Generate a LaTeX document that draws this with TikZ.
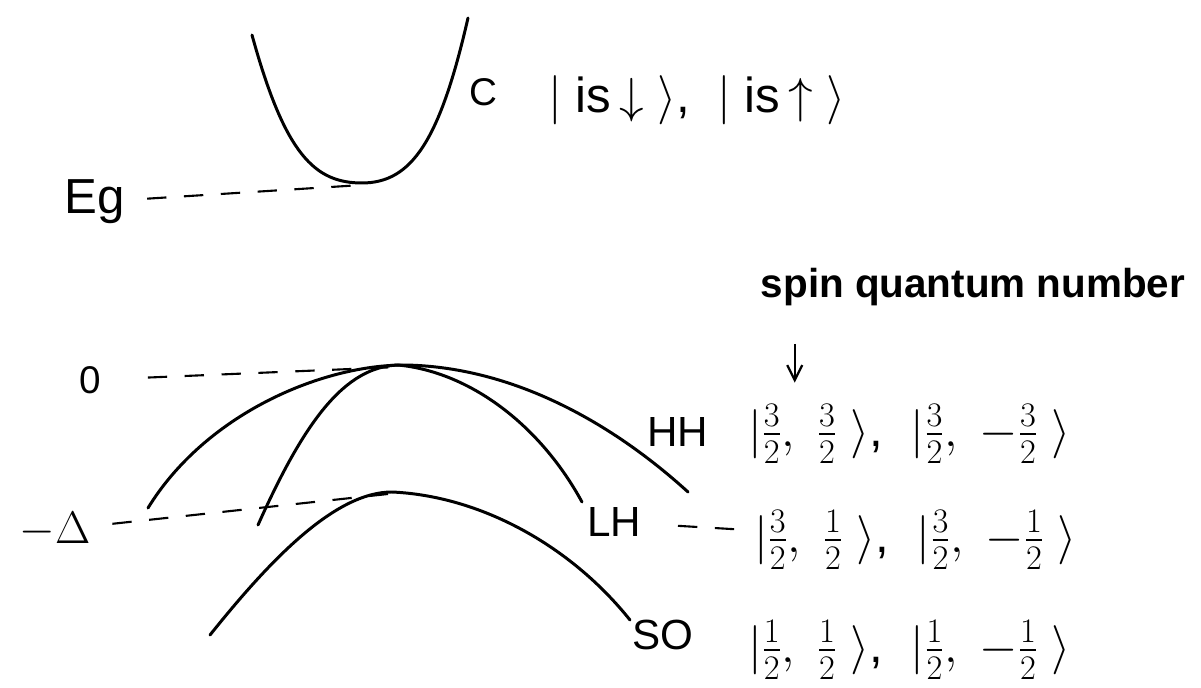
\RequirePackage{fix-cm}
\documentclass[tikz,border=0pt]{standalone}
\usepackage{amsmath}
\usepackage{fontspec}
\setmainfont{Liberation Sans}
\usetikzlibrary{arrows.meta, calc}

\begin{document}
\begin{tikzpicture}[
        x=0.02cm, y=-0.02cm,
        every node/.style={inner sep=1pt},
        band/.style={line width=1.7pt, line cap=round},
        guide/.style={line width=1.2pt, dash pattern=on 11pt off 10pt},
        lbl/.style={font=\fontsize{22}{26}\selectfont},
        ket/.style={anchor=west, font=\fontsize{28}{32}\selectfont},
        pointer/.style={-{Straight Barb[length=3mm, width=3mm]}, line width=1.3pt}
    ]
        \useasboundingbox (0,0) rectangle (1201,688);

        % Conduction band
        \draw[band] (252,35) .. controls (285,155) and (315,183) .. (362,183)
                    .. controls (412,183) and (440,140) .. (468,18);
        \coordinate (cbot) at (362,185);
        \node[lbl] (cl) at (483,92) {C};
        \node[ket] (cket) at (546,100) {$|\;\mathrm{is}\,{\downarrow}\;\rangle$,\;\;$|\;\mathrm{is}\,{\uparrow}\;\rangle$};

        \node[lbl, font=\fontsize{28}{32}\selectfont] (eg) at (95,202) {Eg};
        \draw[guide, shorten <=0.4cm] (eg) -- (cbot);

        % Valence bands
        \coordinate (vtop) at (398,367);
        \coordinate (sotop) at (388,494);
        \draw[band] (148,508) .. controls (205,415) and (320,365) .. (405,365)
                    .. controls (520,367) and (620,430) .. (688,492);
        \draw[band] (258,525) .. controls (305,420) and (345,367) .. (398,365)
                    .. controls (470,372) and (540,425) .. (582,502);
        \draw[band] (210,635) .. controls (270,560) and (335,492) .. (392,492)
                    .. controls (480,496) and (570,545) .. (630,620);

        \node[lbl] (zero) at (90,380) {0};
        \draw[guide, shorten <=0.9cm] (zero) -- (vtop);
        \node[lbl, font=\fontsize{26}{30}\selectfont] (delta) at (55,530) {$-\Delta$};
        \draw[guide, shorten <=0.4cm] (delta) -- (sotop);

        % Labels and states
        \node[lbl, font=\fontsize{24}{28}\selectfont] (hh) at (678,432) {HH};
        \node[lbl, font=\fontsize{24}{28}\selectfont] (lh) at (614,522) {LH};
        \node[lbl, font=\fontsize{24}{28}\selectfont] (so) at (663,635) {SO};
        \node[ket] (hhket) at (746,434) {$|\frac{3}{2},\;\frac{3}{2}\;\rangle$,\;\;$|\frac{3}{2},\;-\frac{3}{2}\;\rangle$};
        \node[ket] (lhket) at (752,540) {$|\frac{3}{2},\;\frac{1}{2}\;\rangle$,\;\;$|\frac{3}{2},\;-\frac{1}{2}\;\rangle$};
        \node[ket] (soket) at (746,650) {$|\frac{1}{2},\;\frac{1}{2}\;\rangle$,\;\;$|\frac{1}{2},\;-\frac{1}{2}\;\rangle$};
        \draw[guide, shorten <=0.7cm, shorten >=0.1cm] (lh) -- (lhket);

        \node[font=\fontsize{23}{27}\selectfont\bfseries] (spin) at (973,287) {spin quantum number};
        \coordinate (ptr) at ($(spin.south west)+(36,36)$);
        \draw[pointer] (ptr) -- ($(ptr |- hhket.north)+(0,-20)$);
\end{tikzpicture}
\end{document}
